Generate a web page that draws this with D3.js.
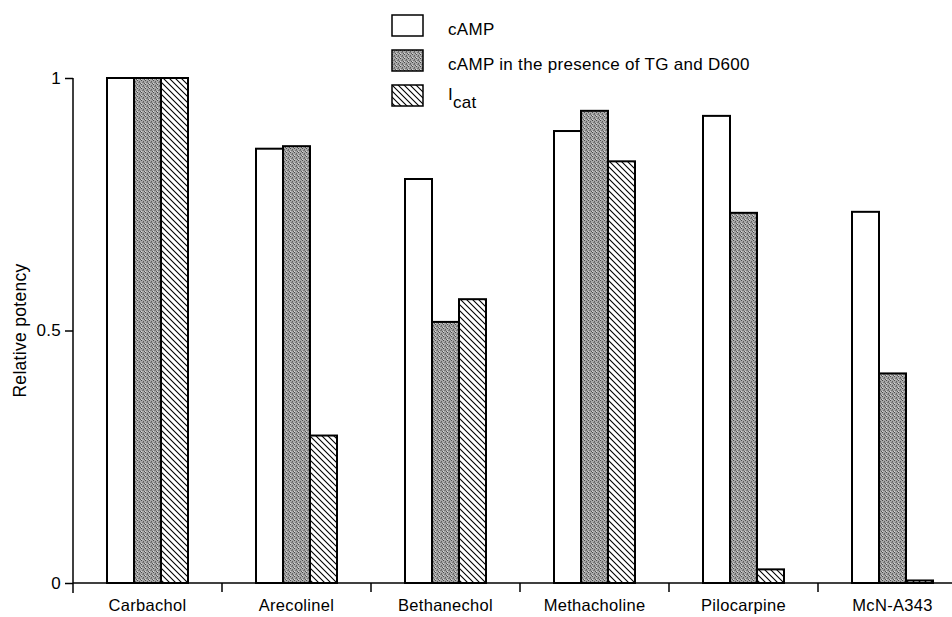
<!DOCTYPE html>
<html>
<head>
<meta charset="utf-8">
<script src="https://cdn.jsdelivr.net/npm/d3@7"></script>
<style>
  body { margin: 0; background: #fff; }
  svg { display: block; font-family: "Liberation Sans", Arial, Helvetica, sans-serif; letter-spacing: 0.3px; }
  .axis path, .axis line { stroke: #000; stroke-width: 1.5; }
  .axis text { font-size: 17px; fill: #000; font-family: "Liberation Sans", Arial, Helvetica, sans-serif; }
  .xaxis text { font-size: 16.5px; }
</style>
</head>
<body>
<script>
// data
var drugs = ["Carbachol", "Arecolinel", "Bethanechol", "Methacholine", "Pilocarpine", "McN-A343"];
var seriesKeys = ["camp", "campTG", "icat"];
var camp   = [1.00, 0.86, 0.80, 0.895, 0.925, 0.735];
var campTG = [1.00, 0.865, 0.517, 0.935, 0.733, 0.415];
var icat   = [1.00, 0.292, 0.562, 0.835, 0.027, 0.005];
var yTicks = [0, 0.5, 1];
var yTickLabels = ["0", "0.5", "1"];

var width = 952, height = 617;
var margin = {top: 78, left: 73, bottom: 34};
var groupW = 149;

var svg = d3.select("body").append("svg")
    .attr("width", width)
    .attr("height", height);

// patterns
var defs = svg.append("defs");

var stip = defs.append("pattern")
    .attr("id", "stipple")
    .attr("patternUnits", "userSpaceOnUse")
    .attr("width", 4).attr("height", 4);
stip.append("rect").attr("width", 4).attr("height", 4).attr("fill", "#a8a8a8");
stip.append("rect").attr("x", 0).attr("y", 0).attr("width", 1).attr("height", 1).attr("fill", "#4a4a4a");
stip.append("rect").attr("x", 2).attr("y", 1).attr("width", 1).attr("height", 1).attr("fill", "#606060");
stip.append("rect").attr("x", 1).attr("y", 2).attr("width", 2).attr("height", 1).attr("fill", "#787878");
stip.append("rect").attr("x", 3).attr("y", 3).attr("width", 1).attr("height", 1).attr("fill", "#555");
stip.append("rect").attr("x", 0).attr("y", 3).attr("width", 1).attr("height", 1).attr("fill", "#d8d8d8");

var hatch = defs.append("pattern")
    .attr("id", "hatch")
    .attr("patternUnits", "userSpaceOnUse")
    .attr("width", 6).attr("height", 6);
hatch.append("rect").attr("width", 6).attr("height", 6).attr("fill", "#fff");
hatch.append("path")
    .attr("d", "M0,0 L6,6 M-1,5 L1,7 M5,-1 L7,1")
    .attr("stroke", "#000")
    .attr("stroke-width", 1.1);

var fills = {camp: "#fff", campTG: "url(#stipple)", icat: "url(#hatch)"};

// scales
var x = d3.scaleBand()
    .domain(drugs)
    .range([margin.left, margin.left + groupW * drugs.length]);

var xSub = d3.scaleBand()
    .domain(seriesKeys)
    .range([(groupW - 81) / 2, (groupW + 81) / 2]);

var y = d3.scaleLinear()
    .domain([0, 1])
    .range([height - margin.bottom, margin.top]);

// bars
var rows = drugs.map(function(d, i) {
  return {drug: d, values: [
    {key: "camp", v: camp[i]},
    {key: "campTG", v: campTG[i]},
    {key: "icat", v: icat[i]}
  ]};
});

var groups = svg.selectAll(".grp")
    .data(rows)
  .enter().append("g")
    .attr("class", "grp")
    .attr("transform", function(d) { return "translate(" + x(d.drug) + ",0)"; });

groups.selectAll("rect")
    .data(function(d) { return d.values; })
  .enter().append("rect")
    .attr("x", function(d) { return xSub(d.key); })
    .attr("y", function(d) { return y(d.v); })
    .attr("width", xSub.bandwidth())
    .attr("height", function(d) { return y(0) - y(d.v); })
    .attr("fill", function(d) { return fills[d.key]; })
    .attr("stroke", "#000")
    .attr("stroke-width", 2);

// y axis
var yAxis = svg.append("g")
    .attr("class", "axis")
    .attr("transform", "translate(" + margin.left + ",0)")
    .call(d3.axisLeft(y)
      .tickValues(yTicks)
      .tickFormat(function(d, i) { return yTickLabels[i]; })
      .tickSize(8)
      .tickSizeOuter(0)
      .tickPadding(4));
yAxis.select(".domain").remove();
yAxis.append("line")
    .attr("x1", 0).attr("x2", 0)
    .attr("y1", y(1)).attr("y2", y(0) + 10)
    .attr("stroke", "#000").attr("stroke-width", 1.5);

// x axis
var xAxis = svg.append("g")
    .attr("class", "axis xaxis")
    .attr("transform", "translate(0," + y(0) + ")")
    .call(d3.axisBottom(x).tickSize(0).tickPadding(16));
xAxis.select(".domain").remove();
xAxis.append("line")
    .attr("x1", margin.left).attr("x2", width)
    .attr("y1", 0).attr("y2", 0)
    .attr("stroke", "#000").attr("stroke-width", 1.5);
xAxis.selectAll(".sep")
    .data(drugs.slice(1))
  .enter().append("line")
    .attr("class", "sep")
    .attr("x1", function(d) { return x(d); })
    .attr("x2", function(d) { return x(d); })
    .attr("y1", 0).attr("y2", 9)
    .attr("stroke", "#000").attr("stroke-width", 1.5);

// y label
svg.append("text")
    .attr("transform", "translate(26," + y(0.5) + ") rotate(-90)")
    .attr("text-anchor", "middle")
    .style("font-size", "17.5px")
    .text("Relative potency");

// legend
var legendItems = [
  {key: "camp", label: "cAMP"},
  {key: "campTG", label: "cAMP in the presence of TG and D600"},
  {key: "icat", label: "I"}
];
var legend = svg.selectAll(".leg")
    .data(legendItems)
  .enter().append("g")
    .attr("class", "leg")
    .attr("transform", function(d, i) { return "translate(392," + (15 + i * 35) + ")"; });

legend.append("rect")
    .attr("width", 31).attr("height", 21)
    .attr("fill", function(d) { return fills[d.key]; })
    .attr("stroke", "#000")
    .attr("stroke-width", 1.5);

var lt = legend.append("text")
    .attr("x", 56)
    .attr("y", function(d, i) { return i == 2 ? 15 : 20; })
    .style("font-size", "17px")
    .text(function(d) { return d.label; });
lt.filter(function(d) { return d.key == "icat"; })
  .append("tspan")
    .attr("dy", 8)
    .text("cat");
</script>
</body>
</html>
